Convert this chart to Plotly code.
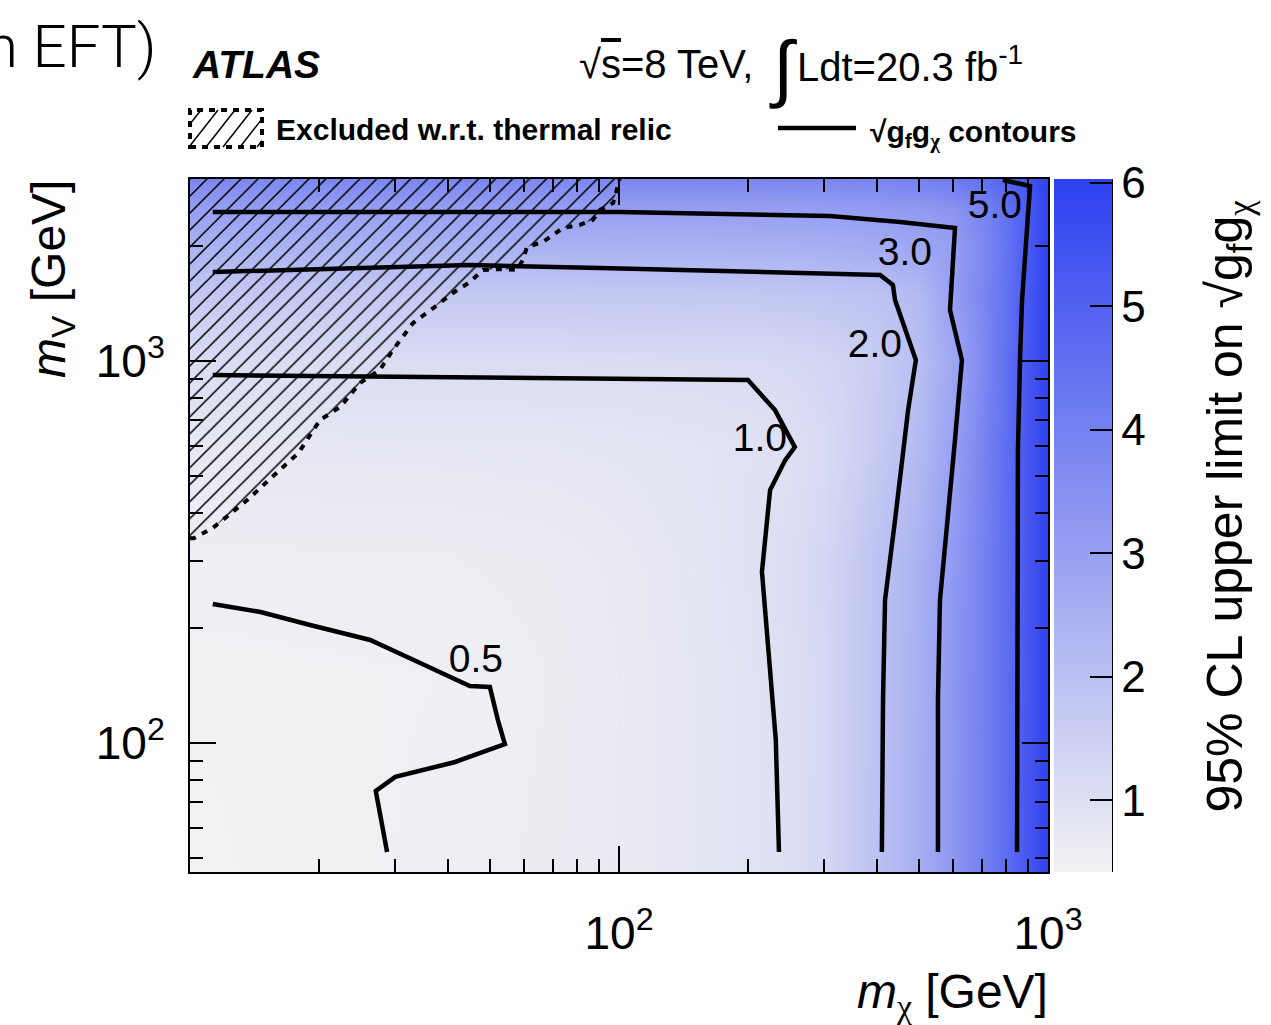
import plotly.graph_objects as go

# ---------------- data ----------------
# heatmap grid: 95% CL upper limit on sqrt(gf*gchi)
m_chi_grid = [10, 20, 40, 70, 100, 150, 200, 250, 300, 400, 500, 600, 700, 800, 900, 1000]
m_v_grid = [46, 80, 150, 300, 600, 1000, 1500, 2000, 2500, 3000]
limit_grid = [
    [0.42, 0.46, 0.53, 0.60, 0.67, 0.79, 0.91, 1.05, 1.25, 1.95, 2.55, 3.30, 4.00, 4.65, 5.35, 6.00],
    [0.43, 0.46, 0.52, 0.59, 0.66, 0.79, 0.91, 1.05, 1.25, 1.95, 2.55, 3.30, 4.00, 4.65, 5.35, 6.00],
    [0.46, 0.48, 0.50, 0.58, 0.66, 0.79, 0.91, 1.05, 1.24, 1.94, 2.52, 3.28, 3.98, 4.64, 5.35, 6.00],
    [0.55, 0.56, 0.57, 0.61, 0.68, 0.82, 0.95, 1.08, 1.28, 1.92, 2.45, 3.20, 3.95, 4.62, 5.35, 6.00],
    [0.75, 0.75, 0.76, 0.78, 0.81, 0.87, 0.94, 1.00, 1.15, 1.65, 2.20, 3.00, 3.85, 4.60, 5.35, 6.00],
    [1.10, 1.10, 1.10, 1.10, 1.11, 1.13, 1.16, 1.20, 1.30, 1.60, 2.05, 2.80, 3.70, 4.55, 5.35, 6.00],
    [1.75, 1.75, 1.75, 1.75, 1.76, 1.77, 1.78, 1.80, 1.85, 1.95, 2.20, 3.05, 3.80, 4.50, 5.30, 6.00],
    [2.45, 2.45, 2.45, 2.45, 2.46, 2.47, 2.48, 2.50, 2.55, 2.65, 2.85, 3.05, 3.70, 4.45, 5.25, 6.00],
    [3.05, 3.05, 3.05, 3.05, 3.05, 3.05, 3.06, 3.07, 3.08, 3.12, 3.20, 3.40, 3.90, 4.50, 5.20, 6.00],
    [3.80, 3.80, 3.80, 3.80, 3.80, 3.80, 3.81, 3.82, 3.84, 3.90, 4.00, 4.20, 4.50, 4.95, 5.40, 6.00],
]

# contour lines of sqrt(gf*gchi)
c05_mchi = [11.3, 14.6, 19.05, 26.3, 34.4, 41.5, 44.9, 50.0, 52.2, 54.2, 41.5, 30.1, 27.1, 27.9, 28.8]
c05_mv = [231.4, 220.6, 203.9, 186.3, 162.2, 146.4, 141.2, 140.4, 115.0, 99.5, 89.3, 81.6, 75.0, 63.0, 51.9]
c10_mchi = [11.3, 199.8, 231, 257, 244, 225, 215.4, 222.5, 232, 236]
c10_mv = [920, 893, 745, 596, 551, 460, 281, 175.4, 102, 51.9]
c20_mchi = [11.3, 44.9, 90.3, 406, 435, 440, 492, 472, 440, 417, 412.5, 410]
c20_mv = [1712, 1786, 1754, 1682, 1583, 1446, 1007, 745, 384, 237, 129.8, 51.9]
c30_mchi = [11.3, 100.5, 310, 452, 607, 591, 630, 607, 560, 554, 554]
c30_mv = [2458, 2458, 2399, 2314, 2232, 1362, 1007, 622, 237, 130, 51.9]
c50_mchi = [785, 908, 870, 861, 851, 847]
c50_mv = [2982, 2876, 1446, 1038, 586, 51.9]

contour_labels = ["0.5", "1.0", "2.0", "3.0", "5.0"]
label_mchi = [46.4, 213, 395, 464, 752]
label_mv = [163, 618, 1089, 1897, 2518]

# thermal relic exclusion boundary (dotted)
relic_mchi = [10.0, 10.2, 11.3, 13.6, 16.0, 17.9, 20.1, 22.4, 24.9, 27.7, 29.7, 33.1, 36.9, 41.0,
              44.9, 48.2, 52.8, 57.8, 59.7, 61.0, 66.5, 74.0, 81.1, 86.9, 90.3, 96.9, 100.4]
relic_mv = [344, 344, 366, 433, 513, 575, 702, 759, 877, 948, 1070, 1259, 1378, 1509,
            1611, 1734, 1742, 1734, 1841, 1991, 2052, 2232, 2275, 2345, 2490, 2596, 3000]
relic_corner_mchi = [10.0]
relic_corner_mv = [3000]

colorbar_ticks = [1, 2, 3, 4, 5, 6]
x_major = [100, 1000]
x_major_text = ["10<sup>2</sup>", "10<sup>3</sup>"]
x_minor = [20, 30, 40, 50, 60, 70, 80, 90, 200, 300, 400, 500, 600, 700, 800, 900]
y_major = [100, 1000]
y_major_text = ["10<sup>2</sup>", "10<sup>3</sup>"]
y_minor = [50, 60, 70, 80, 90, 200, 300, 400, 500, 600, 700, 800, 900, 2000, 3000]

# ---------------- layout helpers ----------------
W, H = 1271, 1025
L, R, T, B = 190, 1048, 179, 872
FONT = "Liberation Sans, Arial, Helvetica, sans-serif"
CHI = "<span style='font-family:Liberation Serif, DejaVu Serif, serif'>χ</span>"
SQRT_GG = "√g<sub>f</sub>g<sub>" + CHI + "</sub>"


def px(x):
    return (x - L) / (R - L)


def py(y):
    return (B - y) / (B - T)


fig = go.Figure()

fig.add_trace(go.Heatmap(
    x=m_chi_grid, y=m_v_grid, z=limit_grid, zsmooth="best",
    colorscale=[[0, "rgb(242,242,243)"], [1, "rgb(45,65,240)"]],
    zmin=0.42, zmax=6.03, hoverinfo="skip",
    colorbar=dict(
        x=px(1054), xanchor="left", y=0.5, yanchor="middle", len=1, lenmode="fraction",
        thickness=58, thicknessmode="pixels", xpad=0, ypad=0, outlinewidth=0,
        tickvals=colorbar_ticks, ticks="inside", ticklen=22, tickwidth=2, tickcolor="black",
        tickfont=dict(family=FONT, size=44, color="black"),
    ),
))

# hatched excluded region
fig.add_trace(go.Scatter(
    x=relic_mchi + relic_corner_mchi, y=relic_mv + relic_corner_mv,
    mode="lines", fill="toself", fillcolor="rgba(0,0,0,0)",
    line=dict(width=0, color="rgba(0,0,0,0)"),
    fillpattern=dict(shape="/", fgcolor="black", bgcolor="rgba(0,0,0,0)",
                     size=12, solidity=0.13, fillmode="replace"),
    hoverinfo="skip", showlegend=False,
))
fig.add_trace(go.Scatter(
    x=relic_mchi, y=relic_mv, mode="lines",
    line=dict(color="black", width=4, dash="6px,7px"),
    hoverinfo="skip", showlegend=False,
))

for cx, cy in [(c05_mchi, c05_mv), (c10_mchi, c10_mv), (c20_mchi, c20_mv),
               (c30_mchi, c30_mv), (c50_mchi, c50_mv)]:
    fig.add_trace(go.Scatter(x=cx, y=cy, mode="lines",
                             line=dict(color="black", width=4.5),
                             hoverinfo="skip", showlegend=False))

fig.add_trace(go.Scatter(
    x=label_mchi, y=label_mv, mode="text", text=contour_labels,
    textfont=dict(family=FONT, size=39, color="black"),
    hoverinfo="skip", showlegend=False,
))

axis_common = dict(
    type="log", showline=True, linecolor="black", linewidth=2, mirror="allticks",
    ticks="inside", ticklen=26, tickwidth=2, tickcolor="black",
    showgrid=False, zeroline=False, tickmode="array",
    tickfont=dict(family=FONT, size=46, color="black"),
)
fig.update_xaxes(**axis_common, range=[1, 3], tickvals=x_major, ticktext=x_major_text,
                 ticklabelstandoff=20,
                 minor=dict(tickmode="array", tickvals=x_minor, ticks="inside",
                            ticklen=13, tickwidth=2, tickcolor="black", showgrid=False))
fig.update_yaxes(**axis_common, range=[1.6628, 3.4771], tickvals=y_major, ticktext=y_major_text,
                 ticklabelstandoff=14,
                 minor=dict(tickmode="array", tickvals=y_minor, ticks="inside",
                            ticklen=13, tickwidth=2, tickcolor="black", showgrid=False))

shapes = []
# colorbar right axis line
shapes.append(dict(type="line", xref="paper", yref="paper", x0=px(1112), x1=px(1112),
                   y0=0, y1=1, line=dict(color="black", width=2)))
# legend: hatched box
bx0, bx1, by0, by1 = 190, 262, 110, 147
shapes.append(dict(type="rect", xref="paper", yref="paper", x0=px(bx0), x1=px(bx1),
                   y0=py(by1), y1=py(by0), line=dict(color="black", width=4, dash="6px,6px")))
dxl, dyl = 29, -37
for b in range(172, 263, 17):
    lo = max((bx0 - b) / dxl, 0.0)
    hi = min((bx1 - b) / dxl, 1.0)
    if hi > lo:
        shapes.append(dict(type="line", xref="paper", yref="paper",
                           x0=px(b + lo * dxl), y0=py(by1 + lo * dyl),
                           x1=px(b + hi * dxl), y1=py(by1 + hi * dyl),
                           line=dict(color="black", width=1.5)))
# legend: contour line sample
shapes.append(dict(type="line", xref="paper", yref="paper", x0=px(778), x1=px(856),
                   y0=py(128), y1=py(128), line=dict(color="black", width=4.5)))
fig.update_layout(shapes=shapes)

ann = []


def add_text(text, x, y, size, xanchor="left", yanchor="middle", angle=0, family=FONT, weight=None):
    f = dict(family=family, size=size, color="black")
    if weight is not None:
        f["weight"] = weight
    ann.append(dict(text=text, x=px(x), y=py(y), xref="paper", yref="paper",
                    xanchor=xanchor, yanchor=yanchor, showarrow=False,
                    textangle=angle, font=f))


add_text("n EFT)", 158, 46, 60, xanchor="right", family="Roboto, " + FONT, weight=300)
add_text("<b><i>ATLAS</i></b>", 190, 64, 39)
add_text("√<span style='text-decoration:overline'>s</span>=8 TeV,", 577, 64, 40)
add_text("∫", 783, 68, 74, xanchor="center")
add_text("Ldt=20.3 fb<sup>-1</sup>", 795, 64, 40)
add_text("<b>Excluded w.r.t. thermal relic</b>", 274, 129, 30)
add_text("<b>" + SQRT_GG + " contours</b>", 868, 134, 30)
add_text("<i>m</i><sub>" + CHI + "</sub> [GeV]", 1050, 995, 48, xanchor="right")
add_text("<i>m</i><sub>V</sub> [GeV]", 52, 178, 48, xanchor="center", yanchor="top", angle=-90)
add_text("95% CL upper limit on " + SQRT_GG, 1228, 815, 50,
         xanchor="center", yanchor="bottom", angle=-90)
fig.update_layout(annotations=ann)

fig.update_layout(
    width=W, height=H, autosize=False,
    margin=dict(l=L, r=W - R, t=T, b=H - B, pad=0),
    paper_bgcolor="white", plot_bgcolor="white",
    font=dict(family=FONT, color="black"),
    showlegend=False,
)

fig.write_html("out.html")
